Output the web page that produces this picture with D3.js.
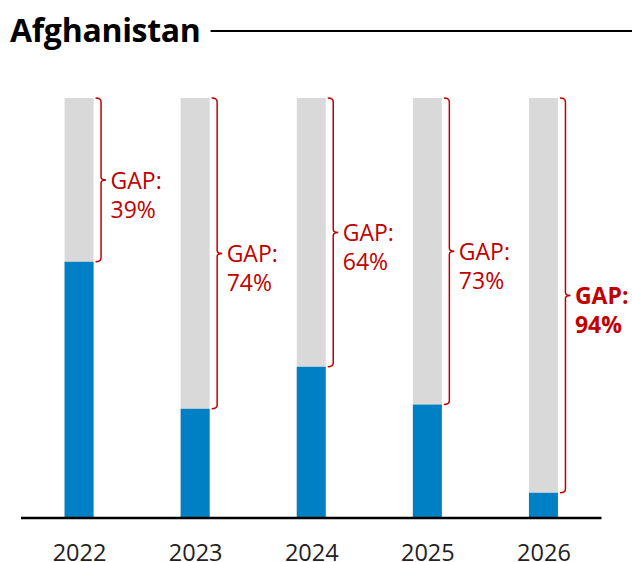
<!DOCTYPE html>
<html>
<head>
<meta charset="utf-8">
<script src="https://cdn.jsdelivr.net/npm/d3@7"></script>
<style>
  body { margin: 0; background: #fff; }
  text { font-family: "Open Sans", "Noto Sans", sans-serif; }
</style>
</head>
<body>
<script>
// chart data
var years = ["2022", "2023", "2024", "2025", "2026"];
var funded = [61, 26, 36, 27, 6];     // % funded (blue)
var gaps = [39, 74, 64, 73, 94];      // % gap (grey part)

var width = 632, height = 562;
var blue = "#0080c4", grey = "#d9d9d9", red = "#c00000";

var svg = d3.select("body").append("svg")
  .attr("width", width)
  .attr("height", height);

// title + rule
var title = svg.append("text")
  .attr("x", 10)
  .attr("y", 42)
  .style("font-size", "32px")
  .style("font-weight", "bold")
  .style("letter-spacing", "-0.3px")
  .attr("fill", "#000")
  .text("Afghanistan");

var tw = title.node().getComputedTextLength();
svg.append("line")
  .attr("x1", 10 + tw + 10).attr("x2", width)
  .attr("y1", 31).attr("y2", 31)
  .attr("stroke", "#000")
  .attr("stroke-width", 2);

// scales
var x = d3.scalePoint()
  .domain(years)
  .range([21, 601.5])
  .padding(0.5);

var y = d3.scaleLinear()
  .domain([0, 100])
  .range([518, 98]);

var barW = 29;

var bars = svg.append("g");

// grey full bars (100%)
bars.selectAll("rect.bg")
  .data(years)
  .enter().append("rect")
  .attr("class", "bg")
  .attr("x", function(d) { return x(d) - barW / 2; })
  .attr("y", y(100))
  .attr("width", barW)
  .attr("height", y(0) - y(100))
  .attr("fill", grey);

// blue funded part
bars.selectAll("rect.fund")
  .data(years)
  .enter().append("rect")
  .attr("class", "fund")
  .attr("x", function(d) { return x(d) - barW / 2; })
  .attr("y", function(d, i) { return y(funded[i]); })
  .attr("width", barW)
  .attr("height", function(d, i) { return y(0) - y(funded[i]); })
  .attr("fill", blue);

// x axis
var xAxis = svg.append("g")
  .attr("transform", "translate(0," + y(0) + ")")
  .call(d3.axisBottom(x).tickSize(0).tickPadding(26));
xAxis.select(".domain")
  .attr("d", "M21,0H601.5")
  .attr("stroke", "#000")
  .attr("stroke-width", 2.5);
xAxis.selectAll(".tick text")
  .style("font-family", "'Open Sans', 'Noto Sans', sans-serif")
  .style("font-size", "23.5px")
  .attr("fill", "#222");

// gap braces
function brace(xl, y1, y2) {
  var xv = xl + 7.5, tip = xv + 5, ym = (y1 + y2) / 2;
  var p = d3.path();
  p.moveTo(xl + 2, y1);
  p.quadraticCurveTo(xv, y1, xv, y1 + 4);
  p.lineTo(xv, ym - 3);
  p.quadraticCurveTo(xv, ym, tip, ym);
  p.quadraticCurveTo(xv, ym, xv, ym + 3);
  p.lineTo(xv, y2 - 4);
  p.quadraticCurveTo(xv, y2, xl + 2, y2);
  return p.toString();
}

var gapG = svg.append("g");
years.forEach(function(d, i) {
  var xr = x(d) + barW / 2;
  var y1 = y(100), y2 = y(funded[i]);
  var ym = (y1 + y2) / 2;
  var last = i === years.length - 1;

  gapG.append("path")
    .attr("d", brace(xr, y1, y2))
    .attr("fill", "none")
    .attr("stroke", red)
    .attr("stroke-width", 1.5);

  var t = gapG.append("text")
    .attr("fill", red)
    .style("font-size", "23px")
    .style("font-weight", last ? "bold" : "normal");
  t.append("tspan")
    .attr("x", xr + 17)
    .attr("y", ym + 9)
    .text("GAP:");
  t.append("tspan")
    .attr("x", xr + 17)
    .attr("y", ym + 38)
    .text(gaps[i] + "%");
});
</script>
</body>
</html>
